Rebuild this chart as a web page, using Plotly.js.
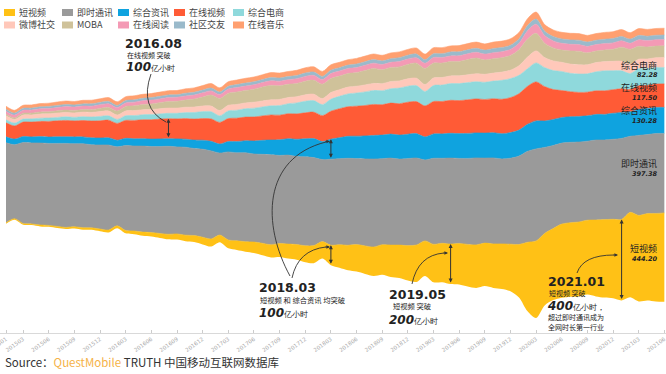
<!DOCTYPE html>
<html><head><meta charset="utf-8">
<script src="https://cdn.plot.ly/plotly-3.0.1.min.js"></script>
<style>html,body{margin:0;padding:0;background:#fff}#chart{width:666px;height:374px}</style>
</head><body><div id="chart"></div>
<script>
const months = [
"201501","201502","201503","201504","201505","201506","201507","201508","201509","201510","201511","201512",
"201601","201602","201603","201604","201605","201606","201607","201608","201609","201610","201611","201612",
"201701","201702","201703","201704","201705","201706","201707","201708","201709","201710","201711","201712",
"201801","201802","201803","201804","201805","201806","201807","201808","201809","201810","201811","201812",
"201901","201902","201903","201904","201905","201906","201907","201908","201909","201910","201911","201912",
"202001","202002","202003","202004","202005","202006","202007","202008","202009","202010","202011","202012",
"202101","202102","202103","202104","202105","202106"];
const tickLabels = ["201501","201503","201506","201509","201512","201603","201606","201609","201612","201703","201706","201709","201712","201803","201806","201809","201812","201903","201906","201909","201912","202003","202006","202009","202012","202103","202106"];
const yearEnds = ["201512","201612","201712","201812","201912","202012"];

// 亿小时 per month
const shortVideo = [
5,5,6,6,7,7,8,8,9,10,10,11,
12,12,14,16,18,20,22,25,28,30,33,36,
38,36,42,46,50,55,60,63,68,72,76,82,
88,85,100,115,125,135,140,145,150,160,165,175,
185,175,190,195,200,205,210,215,215,220,225,235,
265,345,385,360,358,368,370,372,372,382,390,395,
405,425,430,435,440,444.2];
const instantMsg = [
400,370,405,405,410,410,415,420,415,420,415,420,
425,395,425,425,430,430,435,440,435,440,435,440,
440,410,440,440,445,440,445,450,440,445,440,445,
440,410,430,430,435,430,435,440,430,435,430,435,
435,405,430,425,430,425,430,435,425,430,425,430,
442,455,460,430,415,405,402,400,395,400,398,400,
405,380,400,395,400,397.38];
const news = [
30,28,30,30,32,32,33,33,34,34,35,35,
36,33,36,36,37,37,38,38,40,40,42,45,
48,45,52,56,60,65,70,74,78,82,86,90,
95,90,100,105,110,112,115,118,118,120,120,122,
122,115,122,122,124,124,125,125,125,126,126,128,
130,135,140,132,130,128,128,128,127,128,128,130,
130,122,130,130,130,130.28];
const onlineVideo = [
70,66,72,74,76,78,80,82,80,82,84,86,
88,84,90,92,95,97,99,100,100,103,105,108,
112,108,115,117,118,120,122,125,123,125,127,130,
132,130,140,145,148,150,152,155,152,155,157,160,
160,155,162,162,165,165,168,170,168,170,172,175,
182,190,195,172,150,135,125,120,118,118,118,118,
118,112,118,116,117,117.5];
const ecommerce = [
15,14,15,16,16,17,17,18,18,19,20,22,
22,20,23,24,25,26,26,27,28,30,33,35,
36,33,38,40,42,44,45,46,48,50,55,58,
58,55,60,62,64,66,68,70,70,72,78,80,
80,72,80,82,84,85,86,86,86,88,95,95,
92,88,95,95,95,95,92,92,92,95,100,95,
90,80,85,84,83,82.28];
const weibo = [
20,18,20,20,21,21,22,22,22,23,23,24,
24,22,24,25,25,25,26,26,26,27,27,28,
28,26,28,29,29,30,30,30,31,31,31,32,
32,30,33,33,34,34,35,35,35,36,36,37,
37,35,38,38,38,39,39,40,40,40,41,42,
48,58,60,50,48,46,46,46,45,46,46,47,
48,46,48,48,49,50];
const moba = [
8,8,9,9,10,10,11,12,12,13,14,16,
18,20,22,24,26,28,30,33,34,36,40,45,
55,60,60,62,62,65,70,72,68,66,66,68,
70,72,70,68,68,68,72,75,70,70,70,72,
75,80,74,72,72,72,76,78,72,72,72,74,
80,90,88,72,65,62,66,68,60,58,58,60,
70,75,65,60,58,58];
const reading = [
15,14,15,15,16,16,16,17,17,17,17,18,
18,17,18,18,19,19,19,20,20,20,20,21,
21,20,21,22,22,22,22,23,23,23,24,24,
24,23,25,25,25,25,26,26,26,26,27,27,
27,26,28,28,28,28,29,29,29,30,30,30,
32,42,45,38,35,33,33,33,32,32,32,32,
32,30,32,32,32,32];
const social = [
10,10,10,10,10,11,11,11,11,11,12,12,
12,11,12,12,12,13,13,13,13,14,14,14,
14,13,14,15,15,15,15,16,16,16,16,17,
17,16,17,17,17,18,18,18,18,18,19,19,
19,18,19,19,20,20,20,20,20,21,21,21,
22,26,26,22,22,22,22,22,22,22,22,22,
22,21,22,22,22,22];
const music = [
15,14,15,16,16,16,17,17,17,18,18,18,
19,18,19,20,20,20,21,21,21,22,22,22,
23,21,23,23,24,24,24,25,25,25,26,26,
26,25,27,27,27,28,28,28,28,29,29,29,
30,28,30,30,30,31,31,31,31,32,32,32,
32,34,35,33,33,33,33,33,33,33,34,34,
34,32,34,34,34,34];

const seriesNames = ['短视频','即时通讯','综合资讯','在线视频','综合电商','微博社交','MOBA','在线阅读','社区交友','在线音乐'];
const seriesColors = ['#FFC116','#9A9A9A','#0FA3DF','#FF5B36','#8FD9DC','#FFC8BA','#CFC29A','#F49AB5','#9ABACB','#FFA070'];
const seriesValues = [shortVideo, instantMsg, news, onlineVideo, ecommerce, weibo, moba, reading, social, music];
const endLabels = [['短视频','444.20'],['即时通讯','397.38'],['综合资讯','130.28'],['在线视频','117.50'],['综合电商','82.28']];

// silhouette (centred) stream layout
const totals = months.map((_, j) => seriesValues.reduce((s, v) => s + v[j], 0));
const base = totals.map(t => -t / 2);
const bounds = [base.slice()];
const traces = [{x: months, y: base, mode: 'lines', line: {width: 0, shape: 'spline', smoothing: 0.85}, hoverinfo: 'skip', showlegend: false}];
let cum = base.slice();
seriesValues.forEach((vals, i) => {
  cum = cum.map((c, j) => c + vals[j]);
  bounds.push(cum.slice());
  traces.push({x: months, y: cum.slice(), mode: 'lines', fill: 'tonexty', fillcolor: seriesColors[i],
    line: {width: 0.6, color: seriesColors[i], shape: 'spline', smoothing: 0.85}, name: seriesNames[i], showlegend: false, hoverinfo: 'skip'});
});

const W = 666, H = 333;
const px = x => x / W, py = y => (H - y) / H;
const P = (x, y) => px(x).toFixed(5) + ',' + py(y).toFixed(5);
const CJK = "'Noto Sans CJK SC', sans-serif";
const ann = [], shapes = [];

// legend (manual)
const legX = [4, 62, 118, 174, 233], legY = [12.5, 25];
seriesNames.forEach((nm, i) => {
  const r = Math.floor(i / 5), c = i % 5;
  shapes.push({type: 'rect', xref: 'paper', yref: 'paper', x0: px(legX[c]), x1: px(legX[c] + 11), y0: py(legY[r] + 3.5), y1: py(legY[r] - 3.5), fillcolor: seriesColors[i], line: {width: 0}});
  ann.push({xref: 'paper', yref: 'paper', x: px(legX[c] + 13), y: py(legY[r]), xanchor: 'left', yanchor: 'middle', showarrow: false, text: nm, font: {family: CJK, size: 9, color: '#444'}});
});

// year-end dashed lines
yearEnds.forEach(m => shapes.push({type: 'line', xref: 'x', yref: 'paper', x0: m, x1: m, y0: 0, y1: py(28), line: {color: '#d4d4d4', width: 1, dash: 'dash'}, layer: 'above'}));

// double arrows spanning a layer at a month
function span(month, layer) {
  const j = months.indexOf(month);
  ann.push({xref: 'x', yref: 'y', axref: 'x', ayref: 'y', x: j, y: bounds[layer + 1][j], ax: j, ay: bounds[layer][j], text: '', showarrow: true,
    arrowhead: 2, startarrowhead: 2, arrowside: 'end+start', arrowsize: 0.8, startarrowsize: 0.8, arrowwidth: 1, arrowcolor: '#333'});
}
span('201608', 3); span('201803', 0); span('201803', 2); span('201905', 0); span('202101', 0);

// event texts
function txt(x, y, text, size, fam) {
  ann.push({xref: 'paper', yref: 'paper', x: px(x), y: py(y), xanchor: 'left', yanchor: 'middle', showarrow: false, text: text, font: {family: fam || CJK, size: size, color: '#222'}});
}
const big = v => '<b><i>' + v + '</i></b><span style="font-size:8px">亿小时</span>';
txt(123, 43.3, '<b>2016.08</b>', 12.5, 'DejaVu Sans');
txt(125, 55.5, '在线视频 突破', 7);
txt(124, 67, big('100'), 12, 'DejaVu Sans');
txt(257, 287, '<b>2018.03</b>', 12.5, 'DejaVu Sans');
txt(258, 299.5, '短视频 和 综合资讯 均突破', 7.3);
txt(257, 313, big('100'), 12, 'DejaVu Sans');
txt(387, 294, '<b>2019.05</b>', 12.5, 'DejaVu Sans');
txt(391, 306, '短视频 突破', 7.3);
txt(387, 319.5, big('200'), 12, 'DejaVu Sans');
txt(546, 281, '<b>2021.01</b>', 12.5, 'DejaVu Sans');
txt(547, 293, '短视频 突破', 7);
txt(545, 306, '<b><i>400</i></b><span style="font-size:8px">亿小时，</span>', 12, 'DejaVu Sans');
txt(546, 317, '超过即时通讯成为', 7);
txt(546, 326.5, '全网时长第一行业', 7);

// connector curves + heads
function curve(d, hx, hy, dx, dy) {
  shapes.push({type: 'path', xref: 'paper', yref: 'paper', path: d, line: {color: '#333', width: 0.9}});
  if (hx !== undefined) ann.push({xref: 'paper', yref: 'paper', x: px(hx), y: py(hy), ax: dx, ay: dy, text: '', showarrow: true, arrowhead: 2, arrowsize: 0.8, arrowwidth: 0.9, arrowcolor: '#333'});
}
curve('M' + P(151, 74) + ' Q' + P(139, 108) + ' ' + P(166, 122));
curve('M' + P(292, 278) + ' Q' + P(298, 250) + ' ' + P(326, 247), 330, 247, -6, 0);
curve('M' + P(290, 276) + ' C' + P(262, 225) + ' ' + P(262, 158) + ' ' + P(326, 142), 330, 141.5, -6, 0);
curve('M' + P(412, 284) + ' Q' + P(418, 255) + ' ' + P(444, 253), 448, 253, -6, 0);
curve('M' + P(577, 273) + ' Q' + P(583, 255) + ' ' + P(614, 255), 618, 255, -6, 0);

// right-side end labels
const endY = [[248.5, 258.5], [163.5, 174], [110.5, 120.5], [87.5, 97.5], [65, 75]];
endLabels.forEach((lb, i) => {
  ann.push({xref: 'paper', yref: 'paper', x: px(659), y: py(endY[i][0]), xanchor: 'right', yanchor: 'middle', showarrow: false, text: lb[0], font: {family: CJK, size: 9, color: '#222'}});
  ann.push({xref: 'paper', yref: 'paper', x: px(660), y: py(endY[i][1]), xanchor: 'right', yanchor: 'middle', showarrow: false, text: '<b><i>' + lb[1] + '</i></b>', font: {family: 'DejaVu Sans', size: 6.5, color: '#222'}});
});

// source
ann.push({xref: 'paper', yref: 'paper', x: px(3), y: py(362), xanchor: 'left', yanchor: 'middle', showarrow: false,
  text: 'Source：<span style="color:#F5B247">QuestMobile</span> TRUTH 中国移动互联网数据库', font: {family: CJK, size: 11.5, color: '#333'}});

const C = 165, scale = 0.2; // px per unit
const L = H / scale, f = (H - C) / H;
const layout = {
  width: 666, height: 374, margin: {l: 0, r: 0, t: 0, b: 41},
  paper_bgcolor: '#fff', plot_bgcolor: '#fff', showlegend: false, hovermode: false,
  xaxis: {type: 'category', range: [-6 / 8.55, 660 / 8.55], tickmode: 'array', tickvals: tickLabels, ticktext: tickLabels,
    tickangle: -35, tickfont: {size: 5.5, color: '#aaa', family: 'DejaVu Sans'}, showline: true, linecolor: '#d9d9d9', linewidth: 1,
    ticks: 'inside', ticklen: 3, tickcolor: '#ccc', showgrid: false, zeroline: false, automargin: false, fixedrange: true},
  yaxis: {visible: false, range: [-f * L, (1 - f) * L], fixedrange: true},
  shapes: shapes, annotations: ann
};
Plotly.newPlot('chart', traces, layout, {staticPlot: true, displayModeBar: false});
</script></body></html>
